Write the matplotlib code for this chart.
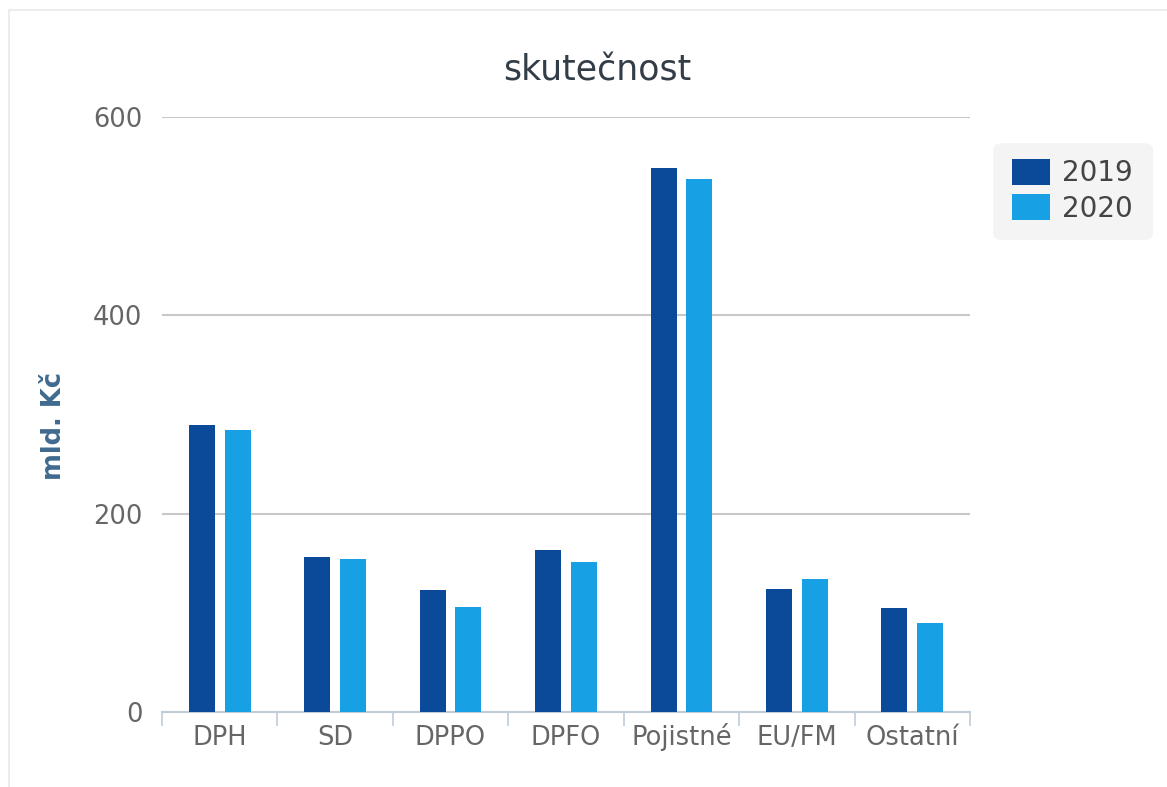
import numpy as np
import matplotlib.pyplot as plt
from matplotlib.patches import FancyBboxPatch, Rectangle

categories = ['DPH', 'SD', 'DPPO', 'DPFO', 'Pojistné', 'EU/FM', 'Ostatní']
values_2019 = [289, 156, 123, 163, 549, 124, 105]
values_2020 = [284, 154, 106, 151, 538, 134, 90]
series_names = ['2019', '2020']
y_ticks = [0, 200, 400, 600]

c2019 = '#0a4a98'
c2020 = '#17a0e4'
grid_col = '#c8c8c8'
label_col = '#666666'

fig = plt.figure(figsize=(11.67, 7.87), dpi=100)
fig.patch.set_facecolor('white')
# faint outer frame of the screenshot
fig.patches.append(Rectangle((0.008, -0.01), 1.2, 0.997, transform=fig.transFigure,
                             fill=False, edgecolor='#ececec', lw=1.5, zorder=-2))

ax = fig.add_axes([0.1388, 0.0953, 0.6924, 0.756])
x = np.arange(len(categories))
w = 0.225
ax.bar(x - 0.155, values_2019, w, color=c2019, zorder=3, label=series_names[0])
ax.bar(x + 0.155, values_2020, w, color=c2020, zorder=3, label=series_names[1])

ax.set_xlim(-0.5, len(categories) - 0.5)
ax.set_ylim(0, 600)
ax.set_yticks(y_ticks)
ax.set_yticklabels([str(v) for v in y_ticks])
ax.yaxis.grid(True, color=grid_col, lw=1.5, zorder=0)
ax.tick_params(axis='y', length=0, pad=14, labelsize=18.5, labelcolor=label_col)

# category labels in the middle, tick marks on the boundaries
ax.set_xticks(x)
ax.set_xticklabels(categories)
ax.tick_params(axis='x', which='major', length=0, pad=24, labelsize=18.5, labelcolor=label_col)
for t in ax.get_xticklabels():
    t.set_va('baseline')
ax.set_xticks(np.arange(-0.5, len(categories), 1), minor=True)
ax.tick_params(axis='x', which='minor', length=10, width=1.2, color='#c0ccd8')

for s in ['top', 'right', 'left']:
    ax.spines[s].set_visible(False)
ax.spines['bottom'].set_color('#c0ccd8')
ax.spines['bottom'].set_linewidth(1.5)

ax.set_ylabel('mld. Kč', fontsize=18.5, fontweight='bold', color='#3f6a8f')
ax.yaxis.set_label_coords(-0.118, 0.48)
fig.text(0.512, 0.91, 'skutečnost', ha='center', va='center', fontsize=25, color='#333d47')

# legend
fig.patches.append(FancyBboxPatch((0.851, 0.695), 0.137, 0.123, transform=fig.transFigure,
                                  boxstyle='round,pad=0,rounding_size=0.008',
                                  facecolor='#f4f4f4', edgecolor='none', zorder=-1))
leg = ax.legend(loc='upper left', bbox_to_anchor=(0.867, 0.798),
                bbox_transform=fig.transFigure, frameon=False,
                fontsize=20, handlelength=1.37, handleheight=1.05, handletextpad=0.42,
                labelspacing=0.25, borderpad=0, borderaxespad=0)
for t in leg.get_texts():
    t.set_color('#444444')

fig.savefig('out.png', dpi=100)
